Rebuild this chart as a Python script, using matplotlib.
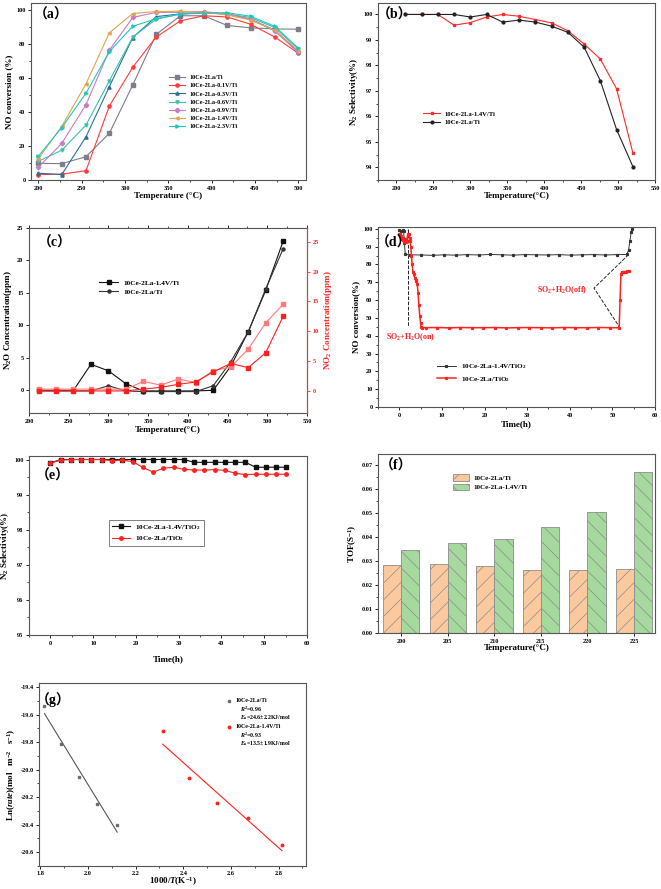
import matplotlib
matplotlib.use("Agg")
import matplotlib.pyplot as plt
import numpy as np
from matplotlib.ticker import MultipleLocator, FormatStrFormatter

plt.rcParams['font.family'] = ['Liberation Serif', 'Noto Sans CJK SC', 'DejaVu Sans']
plt.rcParams['font.weight'] = 'bold'
plt.rcParams['axes.labelweight'] = 'bold'
plt.rcParams['mathtext.fontset'] = 'custom'
plt.rcParams['mathtext.rm'] = 'Liberation Serif:bold'
plt.rcParams['mathtext.it'] = 'Liberation Serif:italic:bold'
plt.rcParams['mathtext.bf'] = 'Liberation Serif:bold'
plt.rcParams['mathtext.default'] = 'rm'
plt.rcParams['hatch.linewidth'] = 0.5

# ── Data ──────────────────────────────────────────────────────────────────────
# (a) NO conversion vs temperature
a_temp = [200, 227, 255, 282, 309, 336, 364, 391, 418, 445, 473, 500]
a_la    = [9.8, 9.6, 13.7, 27.5, 55.9, 85.5, 96.5, 96.5, 90.8, 89.4, 88.8, 88.6]
a_v01   = [3.2, 3.4, 5.5, 43.5, 66.3, 84.0, 93.5, 96.5, 95.8, 91.5, 84.0, 74.5]
a_v03   = [4.0, 3.2, 25.4, 54.9, 83.7, 96.0, 97.6, 98.5, 97.5, 94.5, 88.0, 75.5]
a_v06   = [11.0, 17.5, 32.3, 58.3, 84.0, 94.5, 97.5, 98.3, 97.5, 95.5, 89.5, 77.0]
a_v09   = [7.5, 21.5, 44.3, 76.3, 95.5, 98.5, 98.5, 99.0, 97.5, 94.5, 87.5, 75.0]
a_v14   = [12.5, 31.5, 56.5, 86.5, 97.8, 99.0, 99.2, 98.5, 97.0, 94.0, 88.0, 76.0]
a_v23   = [14.0, 30.8, 51.0, 75.5, 90.3, 94.8, 97.5, 98.0, 98.3, 96.2, 90.3, 77.5]
a_labels = ["10Ce-2La/Ti", "10Ce-2La-0.1V/Ti", "10Ce-2La-0.3V/Ti", "10Ce-2La-0.6V/Ti",
            "10Ce-2La-0.9V/Ti", "10Ce-2La-1.4V/Ti", "10Ce-2La-2.3V/Ti"]

# (b) N2 selectivity, (c) N2O / NO2 concentration
bc_temp = [212, 234, 256, 278, 300, 322, 344, 366, 388, 410, 432, 454, 476, 498, 520]
b_sel_v  = [100, 100, 100, 99.58, 99.68, 99.9, 100, 99.93, 99.8, 99.67, 99.36, 98.84, 98.25, 97.08, 94.57]
b_sel_la = [100, 100, 100, 100, 99.9, 100, 99.7, 99.78, 99.7, 99.54, 99.3, 98.72, 97.4, 95.48, 94.03]
c_n2o_v  = [0, 0, 0, 4.0, 3.0, 1.0, -0.1, -0.1, -0.1, -0.1, 0.0, 3.7, 9.0, 15.4, 23.0]
c_n2o_la = [-0.1, -0.1, -0.1, -0.1, 0.7, -0.1, -0.2, -0.2, -0.2, -0.2, 0.7, 4.4, 9.0, 15.6, 21.8]
c_no2_v  = [0.3, 0.3, 0.3, 0.3, 0.3, 0.3, 1.6, 0.95, 2.0, 1.4, 3.4, 4.0, 7.0, 11.4, 14.5]
c_no2_la = [0, 0, 0, 0, 0, 0, 0.3, 0.6, 1.1, 1.5, 3.2, 4.6, 3.9, 6.4, 12.5]

# (d) SO2 + H2O resistance
d_time_v = [0.0, 0.4, 0.8, 1.0, 1.2, 1.4, 2.4, 5.1, 7.8, 10.5, 13.2, 15.9, 18.6, 21.3, 24.0,
            26.7, 29.4, 32.1, 34.8, 37.5, 40.2, 42.9, 45.6, 48.3, 51.0, 53.4, 53.8, 54.1, 54.4, 54.6]
d_conv_v = [99.2, 99.0, 99.1, 98.8, 92.0, 85.6, 85.4, 85.3, 85.1, 85.4, 85.2, 85.5, 85.3, 85.6, 85.4,
            85.2, 85.5, 85.4, 85.3, 85.5, 85.2, 85.4, 85.5, 85.3, 85.5, 85.6, 88.0, 93.0, 98.0, 100.0]
d_time_la = [0.0, 0.15, 0.3, 0.45, 0.6, 0.75, 0.9, 1.05, 1.2, 1.35, 1.5, 1.65, 1.8, 1.95, 2.1,
             2.25, 2.4, 2.55, 2.7, 2.85, 3.0, 3.2, 3.4, 3.6, 3.8, 4.0, 4.2, 4.4, 4.6, 4.8, 5.0,
             5.15, 5.3, 6.2, 8.9, 11.6, 14.3, 17.0, 19.7, 22.4, 25.1, 27.8, 30.5, 33.2, 35.9,
             38.6, 41.3, 44.0, 46.7, 49.4, 51.6, 51.8, 52.0, 52.3, 52.7, 53.1, 53.5, 54.0]
d_conv_la = [97.2, 96.8, 95.5, 96.2, 94.0, 93.5, 95.0, 92.8, 94.2, 93.0, 92.5, 94.0, 93.2, 96.5, 97.3,
             97.0, 95.0, 93.2, 90.0, 85.0, 80.0, 76.0, 74.5, 72.5, 71.5, 70.5, 69.0, 64.0, 57.0, 51.0, 47.0,
             45.0, 44.6, 44.5, 44.6, 44.4, 44.6, 44.5, 44.5, 44.6, 44.4, 44.5, 44.6, 44.5, 44.4,
             44.6, 44.5, 44.5, 44.6, 44.5, 44.5, 60.0, 74.5, 75.8, 76.0, 75.9, 76.1, 76.2]

# (e) N2 selectivity vs time
e_time = [0, 2.4, 4.8, 7.2, 9.6, 12.0, 14.4, 16.8, 19.2, 21.6, 24.0, 26.4, 28.8, 31.2,
          33.6, 36.0, 38.4, 40.8, 43.2, 45.6, 48.0, 50.4, 52.8, 55.2]
e_sel_v = [99.9, 100, 100, 100, 100, 100, 100, 100, 100, 100, 100, 100, 100, 100,
           99.92, 99.92, 99.92, 99.92, 99.92, 99.92, 99.78, 99.78, 99.78, 99.78]
e_sel_la = [99.9, 99.98, 100, 100, 100, 100, 99.97, 99.98, 99.94, 99.78, 99.64, 99.75, 99.78, 99.72,
            99.70, 99.70, 99.71, 99.69, 99.61, 99.57, 99.58, 99.58, 99.58, 99.58]

# (f) TOF
f_temp = ["200", "205", "210", "215", "220", "225"]
f_tof_la = [0.0285, 0.0286, 0.0280, 0.0261, 0.0262, 0.0268]
f_tof_v  = [0.0345, 0.0374, 0.0392, 0.0440, 0.0505, 0.0670]

# (g) Arrhenius
g_x_la = [1.818, 1.888, 1.961, 2.039, 2.123]
g_y_la = [-19.54, -19.81, -20.05, -20.25, -20.40]
g_x_v  = [2.314, 2.423, 2.542, 2.670, 2.814]
g_y_v  = [-19.72, -20.06, -20.24, -20.35, -20.55]

# ── Canvas ────────────────────────────────────────────────────────────────────
W, H = 661, 889
fig = plt.figure(figsize=(W / 100, H / 100), dpi=100)
fig.patch.set_facecolor("white")

TICK = 4.5
LAB = 6.5


def add_ax(l, t, r, b):
    return fig.add_axes([l / W, 1 - b / H, (r - l) / W, (b - t) / H])


def style(ax, minor_x=None, minor_y=None):
    for s in ax.spines.values():
        s.set_color("#555555")
        s.set_linewidth(0.8)
    ax.tick_params(direction="out", length=2.5, width=0.6, labelsize=TICK, pad=1.5)
    ax.tick_params(which="minor", direction="out", length=1.3, width=0.5)
    if minor_x:
        ax.xaxis.set_minor_locator(MultipleLocator(minor_x))
    if minor_y:
        ax.yaxis.set_minor_locator(MultipleLocator(minor_y))


def panel_label(x, y, s):
    fig.text(x / W, 1 - y / H, s, fontsize=10, fontweight="bold", ha="left", va="center")


def ftext(x, y, s, **kw):
    fig.text(x / W, 1 - y / H, s, **kw)


# ── (a) ───────────────────────────────────────────────────────────────────────
ax = add_ax(31, 3, 306, 180)
style(ax, minor_x=25, minor_y=10)
a_series = [a_la, a_v01, a_v03, a_v06, a_v09, a_v14, a_v23]
a_colors = ["#7d7d8c", "#ff3b3b", "#2b6f96", "#3cc0ad", "#c47cc8", "#e2a44e", "#22c6c0"]
a_marks = ["s", "o", "^", "v", "D", "<", ">"]
for ys, c, m, lab in zip(a_series, a_colors, a_marks, a_labels):
    ax.plot(a_temp, ys, color=c, marker=m, ms=2.3, lw=0.8, label=lab)
ax.set_xlim(191.5, 509)
ax.set_ylim(0, 104)
ax.xaxis.set_major_locator(MultipleLocator(50))
ax.yaxis.set_major_locator(MultipleLocator(20))
ax.set_xlabel("Temperature (°C)", fontsize=LAB, labelpad=1)
ax.set_ylabel("NO conversion (%)", fontsize=LAB, labelpad=2)
ax.legend(loc="center left", bbox_to_anchor=(0.49, 0.44), frameon=False, fontsize=4.5,
          handlelength=2.6, labelspacing=0.45, borderpad=0, handletextpad=0.7)
panel_label(34, 15, "（a）")

# ── (b) ───────────────────────────────────────────────────────────────────────
ax = add_ax(378, 3, 655, 180)
style(ax, minor_x=25, minor_y=0.5)
ax.plot(bc_temp, b_sel_v, color="#ff2a2a", marker="s", ms=2, lw=0.8, label="10Ce-2La-1.4V/Ti")
ax.plot(bc_temp, b_sel_la, color="#222222", marker="o", ms=2, lw=0.8, label="10Ce-2La/Ti")
ax.set_xlim(175, 550)
ax.set_ylim(93.5, 100.45)
ax.xaxis.set_major_locator(MultipleLocator(50))
ax.yaxis.set_major_locator(MultipleLocator(1))
ax.set_xlabel("Temperature(°C)", fontsize=LAB, labelpad=1)
ax.set_ylabel("N$_2$ Selectivity(%)", fontsize=LAB, labelpad=2)
ax.legend(loc="center left", bbox_to_anchor=(0.15, 0.35), frameon=False, fontsize=4.8,
          handlelength=2.6, labelspacing=0.4, borderpad=0, handletextpad=0.7)
panel_label(377, 15, "（b）")

# ── (c) ───────────────────────────────────────────────────────────────────────
ax = add_ax(29, 228, 307, 413)
style(ax, minor_x=25)
ax.plot(bc_temp, c_n2o_v, color="#111111", marker="s", ms=2.2, lw=0.8, label="10Ce-2La-1.4V/Ti")
ax.plot(bc_temp, c_n2o_la, color="#333333", marker="o", ms=2.2, lw=0.8, label="10Ce-2La/Ti")
ax.set_xlim(200, 550)
ax.set_ylim(-3.5, 25)
ax.xaxis.set_major_locator(MultipleLocator(50))
ax.yaxis.set_major_locator(MultipleLocator(5))
ax.tick_params(top=True, which="both")
ax.set_xlabel("Temperature(°C)", fontsize=LAB, labelpad=2)
ax.set_ylabel("N$_2$O Concentration(ppm)", fontsize=LAB, labelpad=2)
ax.legend(loc="center left", bbox_to_anchor=(0.24, 0.68), frameon=False, fontsize=5.2,
          handlelength=2.6, labelspacing=0.4, borderpad=0, handletextpad=0.7)
axr = ax.twinx()
axr.plot(bc_temp, c_no2_v, color="#ff7a7a", marker="s", ms=2.2, lw=0.8)
axr.plot(bc_temp, c_no2_la, color="#ff1f1f", marker="s", ms=2.2, lw=0.8)
axr.set_ylim(-3.7, 27.3)
axr.yaxis.set_major_locator(MultipleLocator(5))
for s in axr.spines.values():
    s.set_visible(False)
axr.spines["right"].set_visible(True)
axr.spines["right"].set_color("#ff3030")
axr.spines["right"].set_linewidth(0.8)
axr.tick_params(direction="out", length=2.5, width=0.6, labelsize=TICK, pad=1.5,
                colors="#ff2020")
axr.set_ylabel("NO$_2$ Concentration(ppm)", fontsize=LAB, color="#ff2020", labelpad=2)
panel_label(38, 243, "（c）")

# ── (d) ───────────────────────────────────────────────────────────────────────
ax = add_ax(378, 227, 655, 407)
style(ax, minor_x=5, minor_y=5)
ax.plot(d_time_v, d_conv_v, color="#333333", marker="s", ms=1.3, lw=0.7,
        label="10Ce-2La-1.4V/TiO$_2$", zorder=3)
ax.plot(d_time_la, d_conv_la, color="#ff2020", marker="s", ms=1.3, lw=1.1,
        label="10Ce-2La/TiO$_2$", zorder=3)
ax.plot([1.95, 1.95], [99.6, 44.7], ls="--", color="#222222", lw=0.7)
ax.plot([53.8, 45.7, 51.7], [85.5, 66.7, 44.7], ls="--", color="#222222", lw=0.7)
ax.text(2.6, 39.1, "SO$_2$+H$_2$O(on)", color="#ff2020", fontsize=5.8, ha="center", va="center")
ax.text(44.2, 65.8, "SO$_2$+H$_2$O(off)", color="#ff2020", fontsize=5.8, ha="right", va="center")
ax.set_xlim(-5, 60)
ax.set_ylim(0, 101)
ax.xaxis.set_major_locator(MultipleLocator(10))
ax.yaxis.set_major_locator(MultipleLocator(10))
ax.set_xlabel("Time(h)", fontsize=LAB, labelpad=2)
ax.set_ylabel("NO conversion(%)", fontsize=LAB, labelpad=2)
ax.legend(loc="center left", bbox_to_anchor=(0.2, 0.19), frameon=False, fontsize=5.2,
          handlelength=2.6, labelspacing=0.5, borderpad=0, handletextpad=0.7)
panel_label(376, 243, "（d）")

# ── (e) ───────────────────────────────────────────────────────────────────────
ax = add_ax(29, 456, 307, 635)
style(ax, minor_x=5, minor_y=0.5)
ax.plot(e_time, e_sel_v, color="#111111", marker="s", ms=2.5, lw=0.8, label="10Ce-2La-1.4V/TiO$_2$")
ax.plot(e_time, e_sel_la, color="#ff2020", marker="o", ms=2.5, lw=0.8, label="10Ce-2La/TiO$_2$")
ax.set_xlim(-5, 60)
ax.set_ylim(95, 100.1)
ax.xaxis.set_major_locator(MultipleLocator(10))
ax.yaxis.set_major_locator(MultipleLocator(1))
ax.set_xlabel("Time(h)", fontsize=LAB, labelpad=7)
ax.set_ylabel("N$_2$ Selectivity(%)", fontsize=LAB, labelpad=2)
leg = ax.legend(loc="center left", bbox_to_anchor=(0.275, 0.57), frameon=True, fancybox=False,
                fontsize=5.2, handlelength=2.6, labelspacing=0.35, borderpad=0.35,
                handletextpad=0.7)
leg.get_frame().set_edgecolor("#444444")
leg.get_frame().set_linewidth(0.6)
panel_label(36, 476, "（e）")

# ── (f) ───────────────────────────────────────────────────────────────────────
ax = add_ax(378, 454, 655, 633)
style(ax, minor_y=0.005)
x = np.arange(len(f_temp))
w = 0.39
ax.bar(x - w / 2, f_tof_la, w, color="#fbc99d", edgecolor="#8c8c8c", linewidth=0.6,
       hatch="//", label="10Ce-2La/Ti")
ax.bar(x + w / 2, f_tof_v, w, color="#a5d99d", edgecolor="#8c8c8c", linewidth=0.6,
       hatch="\\\\", label="10Ce-2La-1.4V/Ti")
ax.set_xticks(x)
ax.set_xticklabels(f_temp)
ax.set_xlim(-0.5, 5.45)
ax.set_ylim(0, 0.0745)
ax.yaxis.set_major_locator(MultipleLocator(0.01))
ax.yaxis.set_major_formatter(FormatStrFormatter("%.2f"))
ax.set_xlabel("Temperature(°C)", fontsize=LAB, labelpad=0)
ax.set_ylabel("TOF(S$^{-1}$)", fontsize=LAB, labelpad=2)
ax.legend(loc="upper left", bbox_to_anchor=(0.26, 0.905), frameon=False, fontsize=5.0,
          handlelength=2.2, handleheight=1.0, labelspacing=0.4, borderpad=0,
          handletextpad=0.7)
panel_label(380, 466, "（f）")

# ── (g) ───────────────────────────────────────────────────────────────────────
ax = add_ax(39, 683, 306, 866)
style(ax, minor_x=0.1, minor_y=0.1)
ax.tick_params(pad=1)
ax.plot(g_x_la, g_y_la, ls="none", marker="s", ms=1.6, color="#6e6e6e")
ax.plot(g_x_v, g_y_v, ls="none", marker="o", ms=1.8, color="#ff2020")
for xs, ys, c in [(g_x_la, g_y_la, "#555555"), (g_x_v, g_y_v, "#ff2020")]:
    k, b0 = np.polyfit(xs, ys, 1)
    xf = np.array([min(xs), max(xs)])
    ax.plot(xf, k * xf + b0, color=c, lw=0.8)
ax.set_xlim(1.795, 2.915)
ax.set_ylim(-20.7, -19.37)
ax.xaxis.set_major_locator(MultipleLocator(0.2))
ax.yaxis.set_major_locator(MultipleLocator(0.2))
ax.xaxis.set_major_formatter(FormatStrFormatter("%.1f"))
ax.yaxis.set_major_formatter(FormatStrFormatter("%.1f"))
ax.set_xlabel("1000/$\\mathit{T}$(K$^{-1}$)", fontsize=LAB, labelpad=0)
ax.set_ylabel("Ln($\\mathit{rate}$)(mol   m$^{-2}$   s$^{-1}$)", fontsize=LAB, labelpad=2)
ax.plot([0.712], [0.902], transform=ax.transAxes, marker="s", ms=1.6, color="#6e6e6e")
ax.plot([0.712], [0.76], transform=ax.transAxes, marker="o", ms=1.8, color="#ff2020")
gt = dict(fontsize=4.2, ha="left", va="center")
ftext(236, 701, "10Ce-2La/Ti", **gt)
ftext(240, 709.5, "$\\mathit{R}^2$=0.96", **gt)
ftext(240, 718, "$\\mathit{E}_a$=24.6±2.2KJ/mol", **gt)
ftext(236, 727, "10Ce-2La-1.4V/Ti", **gt)
ftext(240, 735.5, "$\\mathit{R}^2$=0.93", **gt)
ftext(240, 744, "$\\mathit{E}_a$=13.5±1.9KJ/mol", **gt)
panel_label(36, 700, "（g）")

fig.savefig("out.png", dpi=100, facecolor="white")
